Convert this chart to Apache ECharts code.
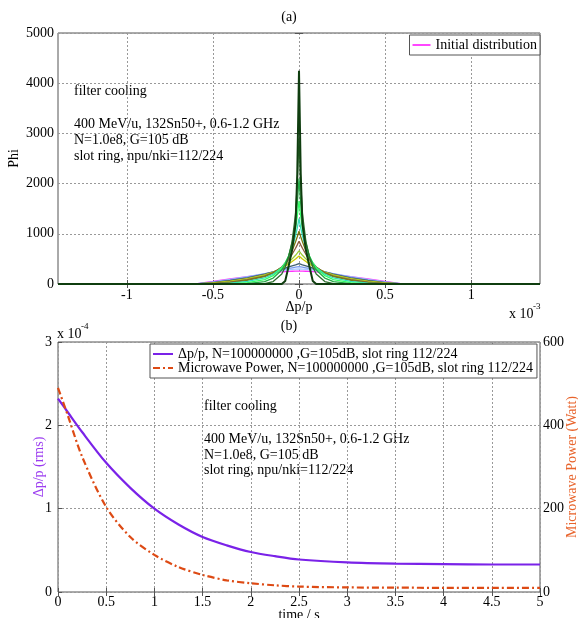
<!DOCTYPE html>
<html>
<head>
<meta charset="utf-8">
<title>filter cooling</title>
<script src="https://cdn.jsdelivr.net/npm/echarts@6/dist/echarts.min.js"></script>
<style>
  html, body { margin: 0; padding: 0; background: #fff; }
  #chart { width: 578px; height: 618px; }
</style>
</head>
<body>
<div id="chart"></div>
<script>
// (a) distributions, dp/p in units of 1e-3
var dpX = [-1.4, -0.6, -0.5, -0.4, -0.3, -0.2, -0.15, -0.1, -0.08, -0.06, -0.04, -0.02, -0.01, 0,
           0.01, 0.02, 0.04, 0.06, 0.08, 0.1, 0.15, 0.2, 0.3, 0.4, 0.5, 0.6, 1.4];
var phiInitial = [0, 4, 50, 100, 148, 192, 222, 242, 247, 251, 254, 256, 257, 258, 257, 256, 254, 251, 247, 242, 222, 192, 148, 100, 50, 4, 0];
var phi2  = [0, 3, 42, 94, 148, 205, 238, 267, 276, 284, 291, 296, 298, 300, 298, 296, 291, 284, 276, 267, 238, 205, 148, 94, 42, 3, 0];
var phi3  = [0, 2, 35, 82, 137, 203, 242, 281, 296, 310, 323, 334, 340, 345, 340, 334, 323, 310, 296, 281, 242, 203, 137, 82, 35, 2, 0];
var phi4  = [0, 1, 28, 70, 124, 196, 243, 294, 318, 341, 362, 382, 393, 405, 393, 382, 362, 341, 318, 294, 243, 196, 124, 70, 28, 1, 0];
var phi5  = [0, 0, 20, 55, 108, 180, 236, 308, 352, 400, 448, 500, 530, 560, 530, 500, 448, 400, 352, 308, 236, 180, 108, 55, 20, 0, 0];
var phi6  = [0, 0, 14, 46, 98, 170, 232, 318, 372, 432, 500, 572, 615, 660, 615, 572, 500, 432, 372, 318, 232, 170, 98, 46, 14, 0, 0];
var phi7  = [0, 0, 9, 38, 86, 158, 226, 332, 402, 484, 592, 712, 780, 850, 780, 712, 592, 484, 402, 332, 226, 158, 86, 38, 9, 0, 0];
var phi8  = [0, 0, 5, 28, 72, 146, 218, 340, 420, 522, 662, 842, 940, 1050, 940, 842, 662, 522, 420, 340, 218, 146, 72, 28, 5, 0, 0];
var phi9  = [0, 0, 2, 16, 52, 120, 196, 328, 420, 542, 722, 962, 1120, 1300, 1120, 962, 722, 542, 420, 328, 196, 120, 52, 16, 2, 0, 0];
var phi10 = [0, 0, 0, 4, 28, 86, 166, 318, 420, 562, 782, 1100, 1350, 1650, 1350, 1100, 782, 562, 420, 318, 166, 86, 28, 4, 0, 0, 0];
var phi11 = [0, 0, 0, 0, 8, 48, 118, 278, 398, 560, 822, 1250, 1600, 2100, 1600, 1250, 822, 560, 398, 278, 118, 48, 8, 0, 0, 0, 0];
var phi12 = [0, 0, 0, 0, 0, 6, 48, 198, 338, 540, 850, 1400, 2000, 2900, 2000, 1400, 850, 540, 338, 198, 48, 6, 0, 0, 0, 0, 0];
var phi13 = [0, 0, 0, 0, 0, 0, 0, 0, 60, 360, 680, 1200, 2200, 4250, 2200, 1200, 680, 360, 60, 0, 0, 0, 0, 0, 0, 0, 0];
var dpTicks = [-1, -0.5, 0, 0.5, 1];

// (b) cooling vs time
var time  = [0, 0.1, 0.25, 0.5, 0.75, 1, 1.25, 1.5, 1.75, 2, 2.25, 2.5, 3, 3.5, 4, 4.5, 5];
var dpRms = [2.32, 2.16, 1.92, 1.55, 1.25, 1.0, 0.81, 0.66, 0.56, 0.48, 0.43, 0.39, 0.355, 0.34, 0.335, 0.33, 0.33]; // x 1e-4
var power = [490, 425, 325, 204, 132, 89, 60, 41, 28, 21, 16, 13, 11, 10.5, 10, 10, 10]; // Watt

var nameDp = 'Δp/p, N=100000000 ,G=105dB, slot ring 112/224';
var namePw = 'Microwave Power, N=100000000 ,G=105dB, slot ring 112/224';

var FONT = 'Liberation Serif';
var profiles = [phiInitial, phi2, phi3, phi4, phi5, phi6, phi7, phi8, phi9, phi10, phi11, phi12, phi13];
var colors = ['#ff33ff', '#a8c8ff', '#7799ee', '#3f5f6f', '#cccc00', '#99cc33', '#8b5a3c',
              '#7a7a10', '#33ddbb', '#33ff66', '#22aa44', '#2d6e2d', '#0f3d0f'];
var DP_COLOR = '#7a22e8', PW_COLOR = '#dd4a14';

function pairs(xs, ys) {
    return xs.map(function (x, i) { return [x, ys[i]]; });
}

var series = profiles.map(function (p, i) {
    return {
        name: i === 0 ? 'Initial distribution' : 'profile ' + (i + 1),
        type: 'line',
        xAxisIndex: 0, yAxisIndex: 0,
        symbol: 'none',
        data: pairs(dpX, p),
        lineStyle: { color: colors[i], width: i === profiles.length - 1 ? 2 : 1.3 },
        itemStyle: { color: colors[i] },
        z: 2 + i
    };
});
series.push({
    name: nameDp, type: 'line', xAxisIndex: 2, yAxisIndex: 2,
    symbol: 'none', smooth: 0.3,
    data: pairs(time, dpRms),
    lineStyle: { color: DP_COLOR, width: 2.2 },
    itemStyle: { color: DP_COLOR }
});
series.push({
    name: namePw, type: 'line', xAxisIndex: 2, yAxisIndex: 3,
    symbol: 'none', smooth: 0.3,
    data: pairs(time, power),
    lineStyle: { color: PW_COLOR, width: 2.2, type: [7, 3, 2, 3] },
    itemStyle: { color: PW_COLOR }
});

var tickStyle = { show: true, inside: true, length: 4, lineStyle: { color: '#555' } };
var gridLine = { show: true, lineStyle: { color: '#999', type: [2, 2], width: 1 } };
var lab = { color: '#000', fontFamily: FONT, fontSize: 14, formatter: function (v) { return String(v); } };
var nameStyle = { color: '#000', fontFamily: FONT, fontSize: 14 };
var solidIcon = 'path://M0,0h20v2h-20z';
var dashDotIcon = 'path://M0,0h7v2h-7z M10,0h2v2h-2z M15,0h5v2h-5z';

var chart = echarts.init(document.getElementById('chart'));
chart.setOption({
    backgroundColor: '#fff',
    animation: false,
    grid: [
        { left: 58, top: 33, width: 482, height: 251, show: true, borderColor: '#555', borderWidth: 1,
          outerBoundsMode: 'none' },
        { left: 58, top: 342, width: 482, height: 250, show: true, borderColor: '#555', borderWidth: 1,
          outerBoundsMode: 'none' }
    ],
    xAxis: [
        { type: 'value', gridIndex: 0, min: -1.4, max: 1.4,
          name: 'Δp/p', nameLocation: 'middle', nameGap: 16, nameMoveOverlap: false, nameTextStyle: nameStyle,
          axisLine: { show: false },
          axisTick: Object.assign({ customValues: dpTicks }, tickStyle),
          axisLabel: Object.assign({ customValues: dpTicks, margin: 4 }, lab),
          splitLine: gridLine },
        { type: 'value', gridIndex: 0, min: -1.4, max: 1.4, position: 'top',
          axisLine: { show: false },
          axisTick: Object.assign({ customValues: dpTicks }, tickStyle),
          axisLabel: { show: false }, splitLine: { show: false } },
        { type: 'value', gridIndex: 1, min: 0, max: 5, interval: 0.5,
          name: 'time / s', nameLocation: 'middle', nameGap: 16, nameMoveOverlap: false, nameTextStyle: nameStyle,
          axisLine: { show: false }, axisTick: tickStyle,
          axisLabel: Object.assign({ margin: 3 }, lab),
          splitLine: gridLine },
        { type: 'value', gridIndex: 1, min: 0, max: 5, interval: 0.5, position: 'top',
          axisLine: { show: false }, axisTick: tickStyle,
          axisLabel: { show: false }, splitLine: { show: false } }
    ],
    yAxis: [
        { type: 'value', gridIndex: 0, min: 0, max: 5000, interval: 1000,
          name: 'Phi', nameLocation: 'middle', nameGap: 37, nameMoveOverlap: false, nameTextStyle: nameStyle,
          axisLine: { show: false }, axisTick: tickStyle,
          axisLabel: Object.assign({ margin: 4 }, lab),
          splitLine: gridLine },
        { type: 'value', gridIndex: 0, min: 0, max: 5000, interval: 1000, position: 'right',
          axisLine: { show: false }, axisTick: tickStyle,
          axisLabel: { show: false }, splitLine: { show: false } },
        { type: 'value', gridIndex: 1, min: 0, max: 3, interval: 1,
          name: 'Δp/p (rms)', nameLocation: 'middle', nameGap: 12, nameMoveOverlap: false,
          nameTextStyle: { color: '#9b3cf0', fontFamily: FONT, fontSize: 14 },
          axisLine: { show: false }, axisTick: tickStyle,
          axisLabel: Object.assign({ margin: 6 }, lab),
          splitLine: gridLine },
        { type: 'value', gridIndex: 1, min: 0, max: 600, interval: 200, position: 'right',
          name: 'Microwave Power (Watt)', nameLocation: 'middle', nameGap: 25, nameRotate: 90, nameMoveOverlap: false,
          nameTextStyle: { color: '#e8642c', fontFamily: FONT, fontSize: 14 },
          axisLine: { show: false }, axisTick: { show: true, inside: false, length: 4, lineStyle: { color: '#555' } },
          axisLabel: Object.assign({ margin: 3 }, lab),
          splitLine: { show: false } }
    ],
    legend: [
        { data: [{ name: 'Initial distribution', icon: solidIcon }], right: 38, top: 35, orient: 'vertical',
          itemWidth: 18, itemHeight: 2, itemGap: 2, padding: [3, 3, 3, 3],
          borderColor: '#555', borderWidth: 1, backgroundColor: '#fff',
          textStyle: { color: '#000', fontFamily: FONT, fontSize: 14 } },
        { data: [{ name: nameDp, icon: solidIcon }, { name: namePw, icon: dashDotIcon }],
          left: 150, top: 344, orient: 'vertical',
          itemWidth: 20, itemHeight: 2, itemGap: 0, padding: [3, 4, 3, 3],
          borderColor: '#555', borderWidth: 1, backgroundColor: '#fff',
          textStyle: { color: '#000', fontFamily: FONT, fontSize: 14, lineHeight: 14 } }
    ],
    graphic: [
        { type: 'text', left: 'center', top: 10, style: { text: '(a)', font: '14px ' + FONT, fill: '#000' } },
        { type: 'text', left: 'center', top: 319, style: { text: '(b)', font: '14px ' + FONT, fill: '#000' } },
        { type: 'text', left: 509, top: 307, style: { text: 'x 10', font: '14px ' + FONT, fill: '#000' } },
        { type: 'text', left: 533, top: 302, style: { text: '-3', font: '9px ' + FONT, fill: '#000' } },
        { type: 'text', left: 57, top: 327, style: { text: 'x 10', font: '14px ' + FONT, fill: '#000' } },
        { type: 'text', left: 81, top: 322, style: { text: '-4', font: '9px ' + FONT, fill: '#000' } },
        { type: 'text', left: 74, top: 84, style: { text: 'filter cooling', font: '14px ' + FONT, fill: '#000' } },
        { type: 'text', left: 74, top: 116, style: { text: '400 MeV/u, 132Sn50+, 0.6-1.2 GHz\nN=1.0e8, G=105 dB\nslot ring, npu/nki=112/224',
            font: '14px ' + FONT, fill: '#000', lineHeight: 16 } },
        { type: 'text', left: 204, top: 399, style: { text: 'filter cooling', font: '14px ' + FONT, fill: '#000' } },
        { type: 'text', left: 204, top: 432, style: { text: '400 MeV/u, 132Sn50+, 0.6-1.2 GHz\nN=1.0e8, G=105 dB\nslot ring, npu/nki=112/224',
            font: '14px ' + FONT, fill: '#000', lineHeight: 15.5 } }
    ],
    series: series
});
</script>
</body>
</html>
